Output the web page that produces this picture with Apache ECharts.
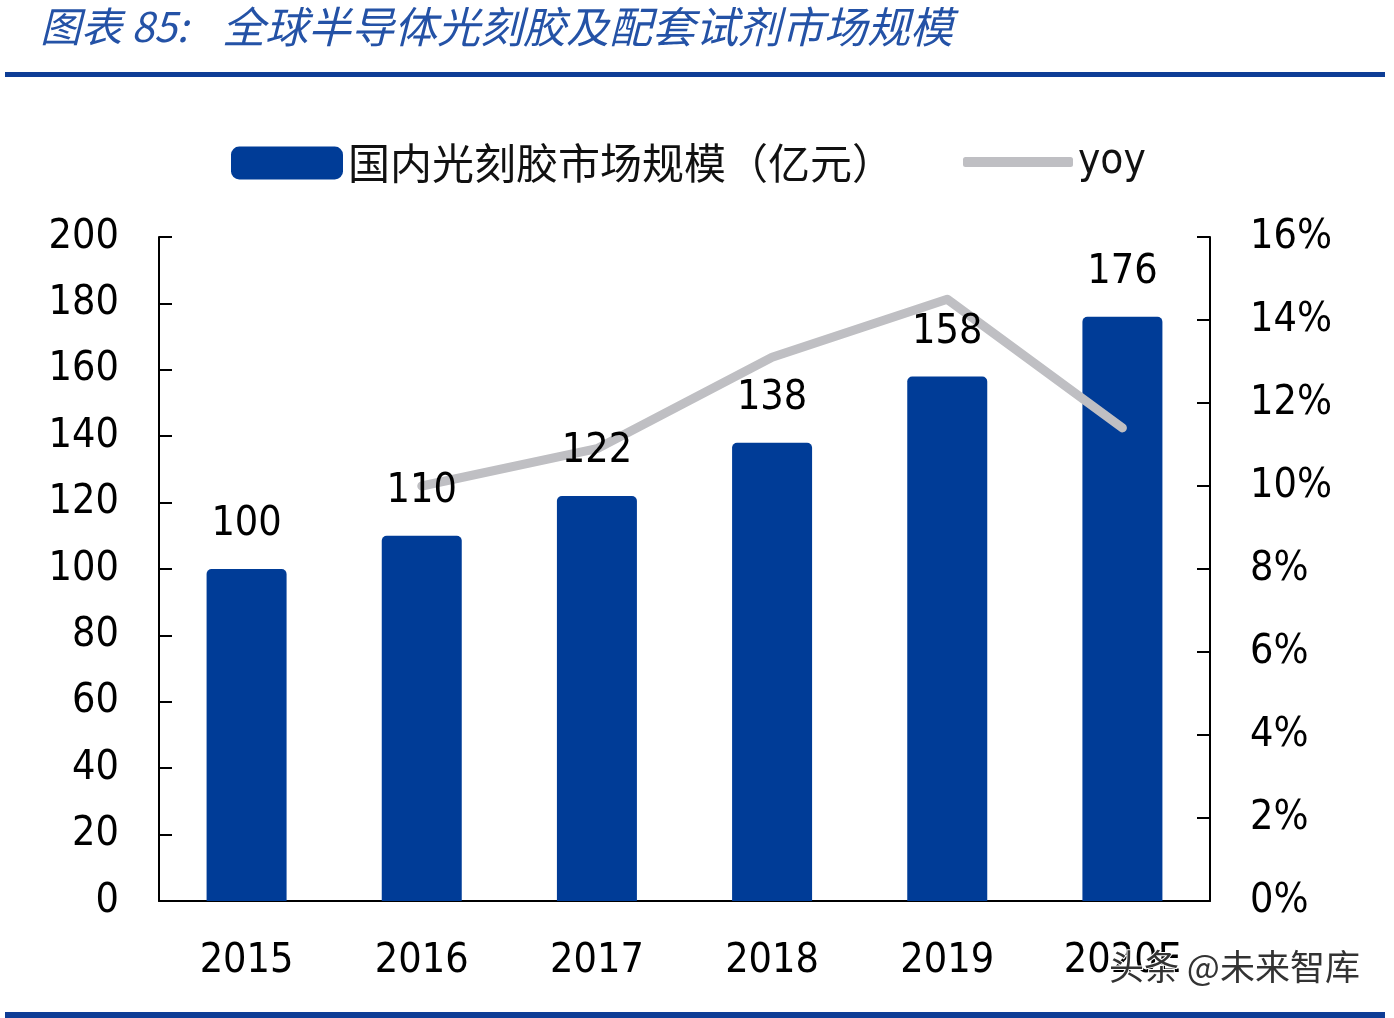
<!DOCTYPE html>
<html><head><meta charset="utf-8">
<script src="https://cdn.jsdelivr.net/npm/echarts@6/dist/echarts.min.js"></script>
<style>html,body{margin:0;padding:0;background:#fff;}#c{width:1394px;height:1018px;}</style>
</head><body><div id="c"></div>
<script>
const categories = ['2015','2016','2017','2018','2019','2020E'];
const marketSize = [100,110,122,138,158,176];
const yoy = [null,0.10,0.109,0.131,0.145,0.114];
const leftTicks = {min:0,max:200,interval:20};
const rightTicks = {min:0,max:0.16,interval:0.02};
const numFont = '"DejaVu Sans Condensed","DejaVu Sans",sans-serif';
const cjkFont = '"Noto Sans CJK SC",sans-serif';
const chart = echarts.init(document.getElementById('c'));
chart.setOption({
  backgroundColor:'#fff',
  animation:false,
  graphic:[
    {type:'text',left:40,top:6,style:{text:'图表 85:',font:'italic 41px '+cjkFont,fill:'#2452A6'}},
    {type:'text',left:222,top:5,style:{text:'全球半导体光刻胶及配套试剂市场规模',font:'italic 43px '+cjkFont,fill:'#2452A6'}},
    {type:'rect',shape:{x:5,y:72,width:1380,height:5},style:{fill:'#0E3D96'}},
    {type:'rect',shape:{x:5,y:1012,width:1380,height:6},style:{fill:'#0E3D96'}},
    {type:'text',left:1108,top:948,z:100,style:{text:'头条 @未来智库',font:'35px '+cjkFont,fill:'#333',stroke:'#fff',lineWidth:2}}
  ],
  legend:[
    {data:[{name:'国内光刻胶市场规模（亿元）',icon:'roundRect'}],left:226,top:137,itemWidth:112,itemHeight:33,itemGap:10,
     textStyle:{fontSize:42,fontFamily:cjkFont,color:'#111'}},
    {data:[{name:'yoy',icon:'roundRect'}],left:958,top:136,itemWidth:110,itemHeight:10,itemGap:8,
     textStyle:{fontSize:42,fontFamily:numFont,color:'#111'}}
  ],
  grid:{left:159,right:184,top:237,bottom:117},
  xAxis:{type:'category',data:categories,
    axisLine:{lineStyle:{color:'#000',width:2}},
    axisTick:{inside:true,length:14,lineStyle:{color:'#000',width:2}},
    axisLabel:{fontSize:41,fontFamily:numFont,color:'#000',margin:40}},
  yAxis:[
    {type:'value',min:leftTicks.min,max:leftTicks.max,interval:leftTicks.interval,
     axisLine:{show:true,lineStyle:{color:'#000',width:2}},
     axisTick:{show:true,inside:true,length:13,lineStyle:{color:'#000',width:2}},
     splitLine:{show:false},
     axisLabel:{fontSize:41,fontFamily:numFont,color:'#000',margin:40}},
    {type:'value',min:rightTicks.min,max:rightTicks.max,interval:rightTicks.interval,position:'right',
     axisLine:{show:true,lineStyle:{color:'#000',width:2}},
     axisTick:{show:true,inside:true,length:13,lineStyle:{color:'#000',width:2}},
     splitLine:{show:false},
     axisLabel:{fontSize:41,fontFamily:numFont,color:'#000',margin:40,
       formatter:v=>Math.round(v*100)+'%'}}
  ],
  series:[
    {name:'国内光刻胶市场规模（亿元）',type:'bar',data:marketSize,barWidth:80,z:2,
     itemStyle:{color:'#003C97',borderRadius:[5,5,0,0]}},
    {name:'yoy',type:'line',yAxisIndex:1,data:yoy,showSymbol:false,symbol:'none',z:3,
     connectNulls:false,
     lineStyle:{color:'#BFBFC3',width:9,cap:'round',join:'round'},itemStyle:{color:'#BFBFC3'}},
    {name:'labels',type:'bar',data:marketSize,barWidth:80,barGap:'-100%',z:5,silent:true,
     itemStyle:{color:'rgba(0,0,0,0)'},
     label:{show:true,position:'top',distance:24,fontSize:41,fontFamily:numFont,color:'#000'}}
  ]
});
</script></body></html>
